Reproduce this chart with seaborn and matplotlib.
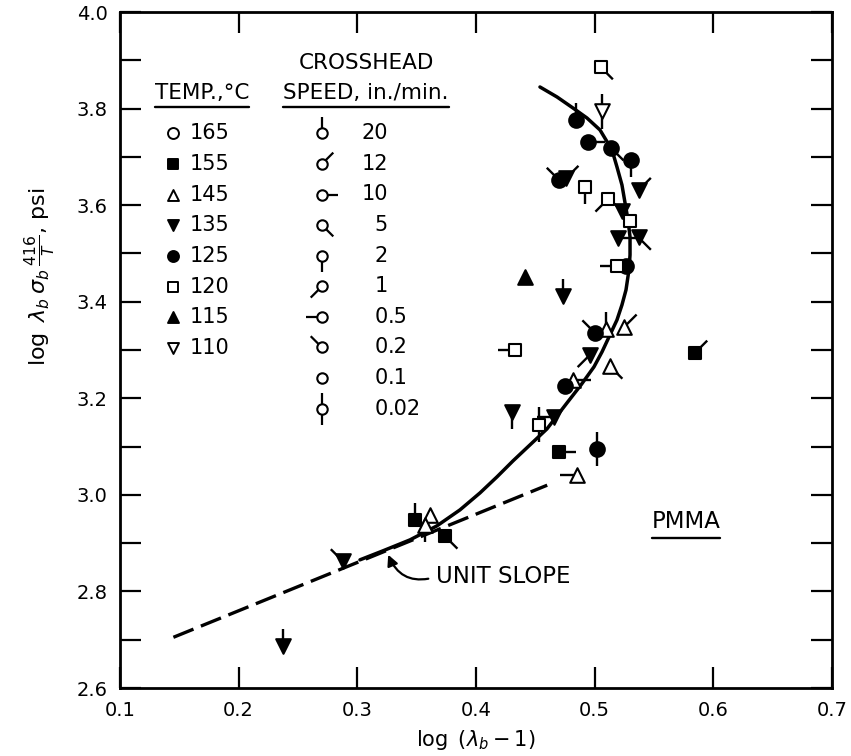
import numpy as np
import pandas as pd
import matplotlib
matplotlib.use("Agg")
import matplotlib.pyplot as plt
from matplotlib.path import Path
from matplotlib.lines import Line2D
from matplotlib.ticker import MultipleLocator, FormatStrFormatter
import seaborn as sns

# ---------------- data ----------------
x_vals = [0.505, 0.506, 0.484, 0.494, 0.514, 0.531, 0.470, 0.476, 0.492, 0.511,
          0.537, 0.523, 0.530, 0.520, 0.537, 0.519, 0.526, 0.441, 0.4736, 0.500,
          0.5095, 0.525, 0.496, 0.513, 0.475, 0.482, 0.430, 0.453, 0.466, 0.470,
          0.502, 0.485, 0.433, 0.5845, 0.237, 0.288, 0.3486, 0.361, 0.357, 0.374]
y_vals = [3.886, 3.794, 3.776, 3.730, 3.718, 3.694, 3.652, 3.656, 3.638, 3.612,
          3.631, 3.587, 3.567, 3.531, 3.533, 3.474, 3.474, 3.452, 3.411, 3.336,
          3.343, 3.348, 3.290, 3.266, 3.226, 3.238, 3.172, 3.145, 3.162, 3.088,
          3.095, 3.041, 3.300, 3.294, 2.686, 2.862, 2.948, 2.959, 2.938, 2.914]
temps = [120, 110, 125, 125, 125, 125, 125, 135, 120, 120,
         135, 135, 120, 135, 135, 120, 125, 115, 135, 125,
         145, 145, 135, 145, 125, 145, 135, 120, 135, 155,
         125, 145, 120, 155, 135, 135, 155, 145, 145, 155]
speeds = [5, 0.02, 20, 10, 5, 2, 0.2, 12, 2, 1,
          12, 0.2, 0.1, 10, 5, 0.5, 0.1, 0.1, 20, 0.2,
          20, 12, 1, 5, 0.1, 10, 2, 0.02, 0.5, 10,
          0.02, 0.5, 0.5, 12, 20, 0.2, 20, 0.1, 2, 5]

curve_x = [0.3022, 0.3216, 0.3444, 0.3671, 0.3865, 0.4034, 0.4177, 0.4312, 0.4455, 0.4598,
           0.4767, 0.4885, 0.4994, 0.5062, 0.5129, 0.5188, 0.5230, 0.5264, 0.5289, 0.5298,
           0.5298, 0.5281, 0.5256, 0.5230, 0.5188, 0.5146, 0.5045, 0.4935, 0.4817, 0.4683,
           0.4539]
curve_y = [2.8654, 2.8841, 2.9068, 2.9358, 2.9689, 3.0041, 3.0373, 3.0704, 3.1035, 3.1366,
           3.1905, 3.2277, 3.2650, 3.2961, 3.3313, 3.3623, 3.3934, 3.4244, 3.4658, 3.4969,
           3.5342, 3.5694, 3.6046, 3.6418, 3.6791, 3.7143, 3.7557, 3.7805, 3.8012, 3.8240,
           3.8447]

unit_x = [0.145, 0.460]
unit_y = [2.705, 3.020]

temp_levels = [165, 155, 145, 135, 125, 120, 115, 110]
temp_labels = ["165", "155", "145", "135", "125", "120", "115", "110"]
speed_levels = [20, 12, 10, 5, 2, 1, 0.5, 0.2, 0.1, 0.02]
speed_labels = ["20", "12", "10", "5", "2", "1", "0.5", "0.2", "0.1", "0.02"]

# ---------------- styles ----------------
temp_style = {165: ("o", False), 155: ("s", True), 145: ("^", False), 135: ("v", True),
              125: ("o", True), 120: ("s", False), 115: ("^", True), 110: ("v", False)}
temp_size = {"o": 10.5, "s": 9.0, "^": 10.5, "v": 10.5}
speed_angles = {20: [90], 12: [45], 10: [0], 5: [-45], 2: [-90], 1: [-135],
                0.5: [180], 0.2: [135], 0.1: [], 0.02: [90, -90]}


def flag_marker(angles):
    verts, codes = [], []
    for a in angles:
        r = np.deg2rad(a)
        verts += [(0.0, 0.0), (np.cos(r), np.sin(r))]
        codes += [Path.MOVETO, Path.LINETO]
    verts += [(1.0, 1.0), (-1.0, -1.0)]
    codes += [Path.MOVETO, Path.MOVETO]
    return Path(verts, codes)


sns.set_style("ticks")
plt.rcParams["font.family"] = ["DejaVu Sans"]
plt.rcParams["mathtext.fontset"] = "dejavusans"
for k in ["text.color", "axes.labelcolor", "xtick.color", "ytick.color", "axes.edgecolor"]:
    plt.rcParams[k] = "black"

fig = plt.figure(figsize=(8.51, 7.56), dpi=100)
ax = fig.add_axes([120 / 851, 1 - 688 / 756, 712 / 851, 676 / 756])

df = pd.DataFrame({"x": x_vals, "y": y_vals, "temp": temps, "speed": speeds})

# curves
sns.lineplot(x=unit_x, y=unit_y, color="black", lw=2.4, linestyle=(0, (6.5, 2.4)),
             ax=ax, sort=False, estimator=None, zorder=1)
sns.lineplot(x=curve_x, y=curve_y, color="black", lw=2.5, ax=ax, sort=False,
             estimator=None, zorder=1)

# speed flags
FLAG_PT = 25
for sp in speed_levels:
    angs = speed_angles[sp]
    sub = df[df["speed"] == sp]
    if sub.empty or not angs:
        continue
    sns.scatterplot(data=sub, x="x", y="y", marker=flag_marker(angs), s=FLAG_PT ** 2,
                    color="black", facecolor="none", edgecolor="black", linewidth=1.7,
                    ax=ax, zorder=2, legend=False)

# temperature markers
for t in temp_levels:
    sub = df[df["temp"] == t]
    if sub.empty:
        continue
    m, filled = temp_style[t]
    sns.scatterplot(data=sub, x="x", y="y", marker=m, s=temp_size[m] ** 2,
                    color="black" if filled else "white", edgecolor="black",
                    linewidth=1.5, ax=ax, zorder=3, legend=False)

# axes
ax.set_xlim(0.1, 0.7)
ax.set_ylim(2.6, 4.0)
ax.xaxis.set_major_locator(MultipleLocator(0.1))
ax.xaxis.set_major_formatter(FormatStrFormatter("%.1f"))
ax.yaxis.set_major_locator(MultipleLocator(0.2))
ax.yaxis.set_minor_locator(MultipleLocator(0.1))
ax.yaxis.set_major_formatter(FormatStrFormatter("%.1f"))
ax.tick_params(which="both", direction="in", length=15, width=1.6, top=True, right=True,
               colors="black")
ax.tick_params(which="major", labelsize=14, pad=9)
for s in ax.spines.values():
    s.set_linewidth(2.0)
    s.set_color("black")

ax.set_xlabel(r"$\log\ (\lambda_b - 1)$", fontsize=15, labelpad=6)
ax.set_ylabel(r"$\log\ \lambda_b\,\sigma_b\,\frac{416}{T}$, psi", fontsize=16)
ax.yaxis.set_label_coords(-0.088, 0.608)

# annotations
ax.annotate("UNIT SLOPE", xy=(0.326, 2.876), xytext=(0.366, 2.830), ha="left", va="center",
            fontsize=16.5,
            arrowprops=dict(arrowstyle="-|>", connectionstyle="arc3,rad=-0.45", lw=1.6,
                            color="black", shrinkA=3, shrinkB=0, mutation_scale=16,
                            relpos=(0.0, 0.5)))
pmma = ax.text(0.577, 2.944, "PMMA", ha="center", va="center", fontsize=16.5)

# ---------------- custom legend ----------------
T = ax.transAxes


def fx(px):
    return (px - 120) / 712


def fy(py):
    return (688 - py) / 676


hdr1 = ax.text(fx(155), fy(93), "TEMP.,°C", ha="left", va="center", fontsize=15.5, transform=T)
hdr2a = ax.text(fx(366), fy(63), "CROSSHEAD", ha="center", va="center", fontsize=15.5, transform=T)
hdr2 = ax.text(fx(366), fy(93), "SPEED, in./min.", ha="center", va="center", fontsize=15.5, transform=T)

for i, (t, lab) in enumerate(zip(temp_levels, temp_labels)):
    yy = fy(133.3 + 30.7 * i)
    m, filled = temp_style[t]
    ax.scatter([fx(173)], [yy], marker=m, s=(temp_size[m] * 0.75) ** 2,
               facecolor="black" if filled else "white", edgecolor="black",
               linewidth=1.4, transform=T, zorder=5, clip_on=False)
    ax.text(fx(190), yy, lab, ha="left", va="center", fontsize=15, transform=T)

for i, (sp, lab) in enumerate(zip(speed_levels, speed_labels)):
    yy = fy(133.3 + 30.6 * i)
    angs = speed_angles[sp]
    if angs:
        ax.scatter([fx(322)], [yy], marker=flag_marker(angs), s=23 ** 2,
                   facecolor="none", edgecolor="black", linewidth=1.6,
                   transform=T, zorder=4, clip_on=False)
    ax.scatter([fx(322)], [yy], marker="o", s=7.5 ** 2, facecolor="white",
               edgecolor="black", linewidth=1.5, transform=T, zorder=5, clip_on=False)
    if "." in lab:
        ip, fp = lab.split(".")
        ax.text(fx(388), yy, ip, ha="right", va="center", fontsize=15, transform=T)
        ax.text(fx(388), yy, "." + fp, ha="left", va="center", fontsize=15, transform=T)
    else:
        ax.text(fx(388), yy, lab, ha="right", va="center", fontsize=15, transform=T)

# underlines computed from rendered text extents
fig.canvas.draw()
renderer = fig.canvas.get_renderer()
inv = fig.transFigure.inverted()
for txt, gap in [(hdr1, 4), (hdr2, 4), (pmma, 5)]:
    bb = txt.get_window_extent(renderer)
    (x0, y0), (x1, _) = inv.transform([(bb.x0, bb.y0 - gap), (bb.x1, bb.y0 - gap)])
    fig.add_artist(Line2D([x0, x1], [y0, y0], color="black", lw=1.7,
                          transform=fig.transFigure))

fig.savefig("out.png", dpi=100)
